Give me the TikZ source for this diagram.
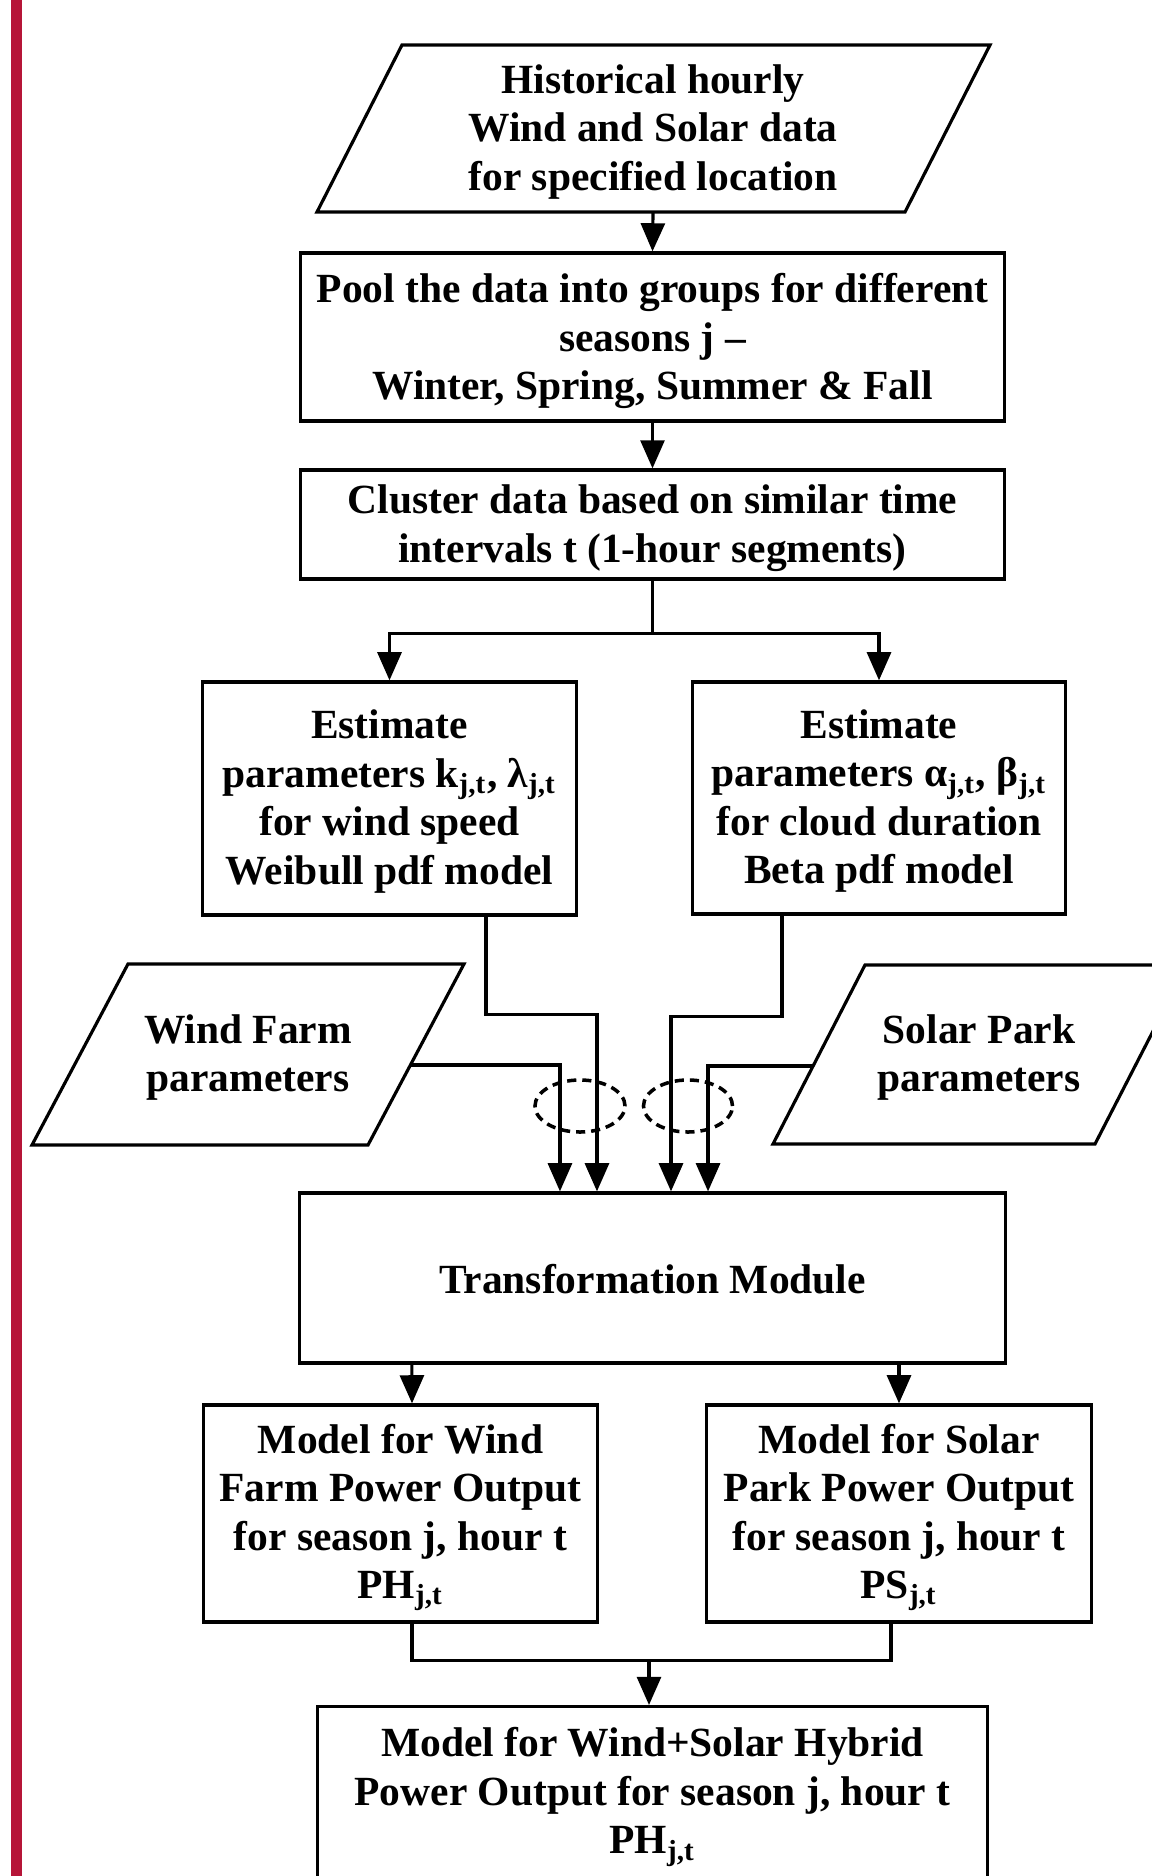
\documentclass[tikz,border=0pt]{standalone}
\usepackage{fontspec}
\setmainfont{Liberation Serif}
\usetikzlibrary{arrows.meta,shapes.geometric,calc}
\definecolor{barred}{RGB}{182,21,56}
\begin{document}
\begin{tikzpicture}[x=0.01cm,y=-0.01cm,
  ln/.style={line width=0.9pt},
  arr/.style={line width=0.9pt,-{Triangle[length=8pt,width=6.8pt]}},
  txt/.style={align=center,inner sep=0pt,font=\fontsize{11.8}{13.8}\selectfont\bfseries},
  box/.style={draw,line width=0.9pt,inner sep=0pt},
  grp/.style={draw,ellipse,line width=1pt,dash pattern=on 2.6pt off 1.7pt,inner sep=0pt}]
\path[use as bounding box, clip] (0,0) rectangle (1152,1876);
\fill[white] (0,0) rectangle (1152,1876);
\fill[barred] (11,0) rectangle (22,1876);

% top data parallelogram
\draw[ln,line join=miter] (402,45) -- (990,45) -- (905,212) -- (317,212) -- cycle;
\node[inner sep=0pt,minimum height=1.67cm] (hist) at (653,128.5) {};
\node[txt] (histT) at ([yshift=-0.035cm]hist.center)
  {Historical hourly\\Wind and Solar data\\for specified location};

\node[box,minimum width=7.03cm,minimum height=1.68cm] (pool) at (652.5,337) {};
\node[txt] (poolT) at ([yshift=-0.04cm]pool.center)
  {Pool the data into groups for different\\seasons j –\\Winter, Spring, Summer \& Fall};
\node[box,minimum width=7.03cm,minimum height=1.09cm] (clus) at (652.5,524.5) {};
\node[txt] (clusT) at ([yshift=-0.035cm]clus.center)
  {Cluster data based on similar time\\intervals t (1-hour segments)};

\node[box,minimum width=3.73cm,minimum height=2.33cm] (estL) at (389.5,798.5) {};
\node[txt] (estLT) at ([yshift=-0.03cm]estL.center)
  {Estimate\\parameters k\textsubscript{j,t}, λ\textsubscript{j,t}\\for wind speed\\Weibull pdf model};
\node[box,minimum width=3.72cm,minimum height=2.32cm] (estR) at (879,798) {};
\node[txt] (estRT) at ([yshift=-0.03cm]estR.center)
  {Estimate\\parameters α\textsubscript{j,t}, β\textsubscript{j,t}\\for cloud duration\\Beta pdf model};

% wind farm parameters
\draw[ln,line join=miter] (128,964) -- (464,964) -- (368,1145) -- (32,1145) -- cycle;
\node[txt] (wf) at (248,1057.5) {Wind Farm\\parameters};
% solar park parameters
\draw[ln,line join=miter] (865,965) -- (1187,965) -- (1095,1144) -- (773,1144) -- cycle;
\node[txt] (sp) at (979,1057.5) {Solar Park\\parameters};
\coordinate (wfout) at (410,1065);
\coordinate (spout) at (813,1066);

\node[box,minimum width=7.05cm,minimum height=1.70cm] (trans) at (652.5,1278) {};
\node[txt] (transT) at ([yshift=-0.01cm]trans.center) {Transformation Module};

\node[box,minimum width=3.93cm,minimum height=2.17cm] (modW) at (400.5,1513.5) {};
\node[txt] (modWT) at ([yshift=-0.04cm]modW.center)
  {Model for Wind\\Farm Power Output\\for season j, hour t\\PH\textsubscript{j,t}};
\node[box,minimum width=3.84cm,minimum height=2.17cm] (modS) at (899,1513.5) {};
\node[txt] (modST) at ([yshift=-0.04cm]modS.center)
  {Model for Solar\\Park Power Output\\for season j, hour t\\PS\textsubscript{j,t}};

\node[box,minimum width=6.69cm,minimum height=1.80cm,anchor=north] (final) at (652.5,1705) {};
\node[txt] (finalT) at (652.5,1797)
  {Model for Wind+Solar Hybrid\\Power Output for season j, hour t\\PH\textsubscript{j,t}};

% grouping ellipses
\node[grp,minimum width=0.90cm,minimum height=0.52cm] (g1) at (580,1106) {};
\node[grp,minimum width=0.89cm,minimum height=0.52cm] (g2) at (688,1106) {};

% connectors
\draw[arr] (hist.south) -- (pool.north);
\draw[arr] (pool.south) -- (clus.north);
\draw[arr] (clus.south) -- ++(0,53) -| (estL.north);
\draw[arr] (clus.south) -- ++(0,53) -| (estR.north);
\draw[arr] ([xshift=0.965cm]estL.south) -- ++(0,98) -| ([xshift=-0.555cm]trans.north);
\draw[arr] ([xshift=-0.97cm]estR.south) -- ++(0,101) -| ([xshift=0.185cm]trans.north);
\draw[arr] (wfout) -| ([xshift=-0.925cm]trans.north);
\draw[arr] (spout) -| ([xshift=0.555cm]trans.north);
\draw[arr] ([xshift=-2.405cm]trans.south) -- ([xshift=0.115cm]modW.north);
\draw[arr] (trans.south -| modS.north) -- (modS.north);
\draw[ln] ([xshift=0.115cm]modW.south) -- ++(0,37) -| ([xshift=-0.08cm]modS.south);
\coordinate (merge) at (649,1659);
\draw[arr] (merge) -- (merge |- final.north);
\end{tikzpicture}
\end{document}
